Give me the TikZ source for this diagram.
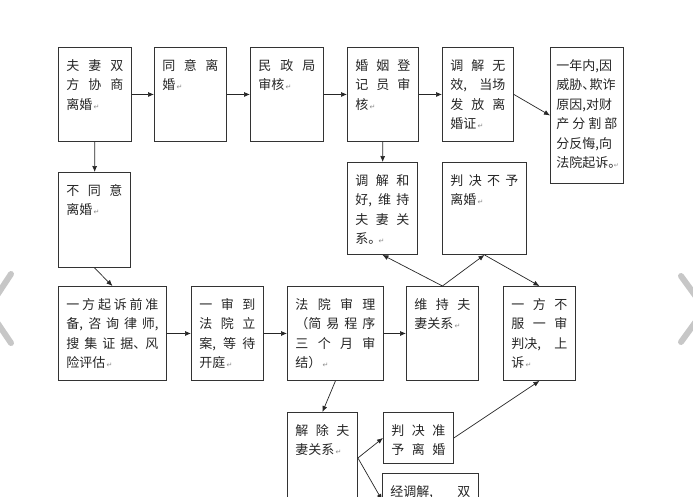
\documentclass[tikz,border=0pt]{standalone}
\usepackage{fontspec}
\newfontfamily\cjk{Noto Sans CJK SC}
\newfontfamily\dejavu{DejaVu Sans}
\usetikzlibrary{arrows.meta,calc}
% linha justificada, pontuacao estreita, marca de paragrafo, caixa de texto
\newcommand{\jl}[1]{\makebox[\linewidth][s]{#1}}
\newcommand{\hb}[1]{\makebox[0.55em][l]{#1}}
\newcommand{\ret}{{\dejavu\fontsize{7}{7}\selectfont\color{black!45}\,↵}}
\newcommand{\btx}[3]{\parbox[c][#2][t]{#1}{\rule{0pt}{23pt}#3}}
\begin{document}
\begin{tikzpicture}[
    x=1pt, y=-1pt,
    >=Latex,
    liucheng/.style={rectangle, draw=black!80, line width=0.9pt, anchor=north west, inner xsep=8pt, inner ysep=0pt, font=\cjk\fontsize{13}{19.4}\selectfont, text=black!85},
    jiantou/.style={-{Latex[length=6pt,width=5pt]}, line width=0.7pt, black!85},
    zhedang/.style={line width=6pt, line cap=round, line join=round, black!22}
]
\fill[white] (0,0) rectangle (693,496);
\useasboundingbox (0,0) rectangle (693,496);
\clip (0,0) rectangle (693,496);
% ---------- primeira linha ----------
\node[liucheng] (b1) at (58,47)  {\btx{57pt}{94pt}{\jl{夫 妻 双}\\ \jl{方 协 商}\\ 离婚\ret}};
\node[liucheng] (b2) at (154,47) {\btx{56pt}{94pt}{\jl{同 意 离}\\ 婚\ret}};
\node[liucheng] (b3) at (250,47) {\btx{57pt}{94pt}{\jl{民 政 局}\\ 审核\ret}};
\node[liucheng] (b4) at (347,47) {\btx{55pt}{94pt}{\jl{婚 姻 登}\\ \jl{记 员 审}\\ 核\ret}};
\node[liucheng] (b5) at (442,47) {\btx{55pt}{94pt}{\jl{调 解 无}\\ \jl{效, 当场}\\ \jl{发 放 离}\\ 婚证\ret}};
\node[liucheng, inner xsep=6pt] (b6) at (550,47) {\btx{61pt}{136pt}{\jl{一年内,因}\\ \jl{威胁\hb{、}欺诈}\\ \jl{原因,对财}\\ \jl{产 分 割 部}\\ \jl{分反悔,向}\\ 法院起诉\makebox[0.42em][l]{。}{\dejavu\fontsize{6}{6}\selectfont\color{black!45}↵}}};
\draw[jiantou] (b1) -- (b2);
\draw[jiantou] (b2) -- (b3);
\draw[jiantou] (b3) -- (b4);
\draw[jiantou] (b4) -- (b5);
\draw[jiantou] (b5.east) -- (b6.west);
% ---------- segunda linha ----------
\node[liucheng] (b7) at (347,162) {\btx{54pt}{92pt}{\jl{调 解 和}\\ \jl{好, 维 持}\\ \jl{夫 妻 关}\\ 系\makebox[0.7em][l]{。}\ret}};
\node[liucheng] (b8) at (442,162) {\btx{68pt}{92pt}{\jl{判 决 不 予}\\ 离婚\ret}};
\node[liucheng] (b9) at (58,172)  {\btx{56pt}{95pt}{\jl{不 同 意}\\ 离婚\ret}};
\draw[jiantou] (b4) -- (b7);
\draw[jiantou] (b1) -- (b9);
% ---------- terceira linha ----------
\node[liucheng] (b10) at (58,286)  {\btx{92pt}{94pt}{\jl{一 方 起 诉 前 准}\\ \jl{备, 咨 询 律 师,}\\ \jl{搜 集 证 据\hb{、} 风}\\ 险评估\ret}};
\node[liucheng] (b11) at (191,286) {\btx{56pt}{94pt}{\jl{一 审 到}\\ \jl{法 院 立}\\ \jl{案, 等 待}\\ 开庭\ret}};
\node[liucheng] (b12) at (287,286) {\btx{80pt}{94pt}{\jl{法 院 审 理}\\ \jl{（简 易 程 序}\\ \jl{三 个 月 审}\\ 结）\ret}};
\node[liucheng] (b13) at (406,286) {\btx{56pt}{94pt}{\jl{维 持 夫}\\ 妻关系\ret}};
\node[liucheng] (b14) at (503,286) {\btx{56pt}{94pt}{\jl{一 方 不}\\ \jl{服 一 审}\\ \jl{判决, 上}\\ 诉\ret}};
\draw[jiantou] (b9.south) -- (b10.north);
\draw[jiantou] (b10) -- (b11);
\draw[jiantou] (b11) -- (b12);
\draw[jiantou] (b12) -- (b13);
\draw[jiantou] (b13.north) -- (b7.south);
\draw[jiantou] (b13.north) -- (b8.south);
\draw[jiantou] (b8.south) -- (b14.north);
% ---------- quarta linha ----------
\node[liucheng] (b15) at (287,412) {\btx{54pt}{110pt}{\jl{解 除 夫}\\ 妻关系\ret}};
\node[liucheng] (b16) at (383,412) {\btx{54pt}{51pt}{\jl{判 决 准}\\ \jl{予 离 婚}}};
\node[liucheng] (b17) at (382,473) {\btx{80pt}{94pt}{\jl{经调解, 双}}};
\coordinate (fenzhi) at ($(b15.north east)+(0,46)$);
\draw[jiantou] (b12.south) -- (b15.north);
\draw[jiantou] (fenzhi) -- (b16.west);
\draw[jiantou] (fenzhi) -- ($(b17.north west)+(0,27)$);
\draw[jiantou] (b16.east) -- (b14.south);
% ---------- setas do visualizador ----------
\draw[zhedang] (11,274) -- (-12,309) -- (11,343);
\draw[zhedang] (681,276) -- (705,309) -- (681,342);
\end{tikzpicture}
\end{document}
